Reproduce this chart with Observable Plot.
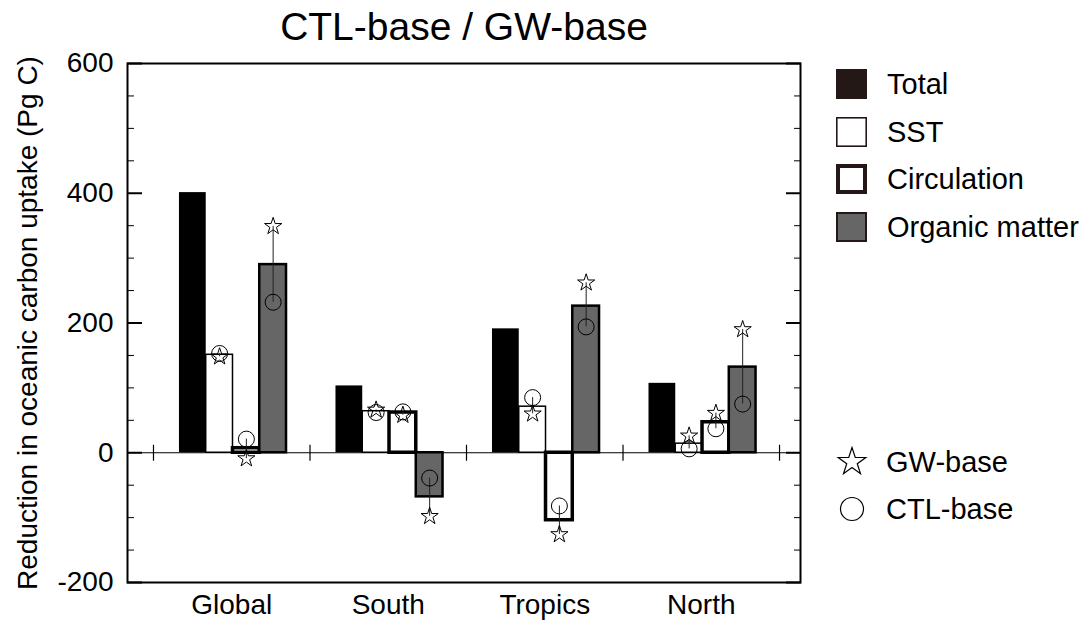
<!DOCTYPE html>
<html>
<head>
<meta charset="utf-8">
<script src="https://cdn.jsdelivr.net/npm/d3@7"></script>
<script src="https://cdn.jsdelivr.net/npm/@observablehq/plot@0.6"></script>
<style>
  body { margin: 0; background: #fff; font-family: "Liberation Sans", Arial, Helvetica, sans-serif; }
  #wrap { position: relative; width: 1081px; height: 622px; }
  .legend-item { position: absolute; display: flex; align-items: center; font-size: 29px; color: #000; line-height: 30px; }
  .legend-item svg { display: block; flex: none; }
</style>
</head>
<body>
<div id="wrap"></div>
<script>
// Regions and decomposition terms
const groups = ["Global", "South", "Tropics", "North"];
const series = ["Total", "SST", "Circulation", "Organic matter"];

// Reduction in oceanic carbon uptake (Pg C), bar heights
const total       = [401, 103, 191, 107];
const sst         = [151,  64,  71,  14];
const circulation = [  7,  62, -104, 47];
const organic     = [290, -68, 226, 132];

// Estimates from the two base states (stars: GW-base, circles: CTL-base)
const gwSST       = [148,  66,   60,  26];
const gwCirc      = [ -9,  58, -126,  61];
const gwOrganic   = [349, -98,  262, 190];
const ctlSST      = [153,  62,   85,   6];
const ctlCirc     = [ 21,  63,  -82,  37];
const ctlOrganic  = [232, -39,  194,  75];

// Axis ticks
const yMajorTicks = [-200, 0, 200, 400, 600];
const yMinorTicks = [-150, -100, -50, 50, 100, 150, 250, 300, 350, 450, 500, 550];

const titleText = "CTL-base / GW-base";
const yLabel = "Reduction in oceanic carbon uptake (Pg C)";

// Bar appearance per term
const barStyle = {
  "Total":          {fill: "#000",    stroke: "#000", strokeWidth: 0},
  "SST":            {fill: "#fff",    stroke: "#000", strokeWidth: 1.5},
  "Circulation":    {fill: "#fff",    stroke: "#000", strokeWidth: 3.5},
  "Organic matter": {fill: "#666666", stroke: "#000", strokeWidth: 2.5}
};

// Assemble one row per (region, term)
const values = [total, sst, circulation, organic];
const gwValues = [null, gwSST, gwCirc, gwOrganic];
const ctlValues = [null, ctlSST, ctlCirc, ctlOrganic];
const rows = [];
groups.forEach((g, gi) => series.forEach((s, si) => rows.push({
  group: g, gi, series: s, si,
  value: values[si][gi],
  gw: gwValues[si] ? gwValues[si][gi] : null,
  ctl: ctlValues[si] ? ctlValues[si][gi] : null
})));
const withRange = rows.filter(d => d.gw != null);

// Bars sit side by side inside each region slot (one unit wide)
const BAR_START = -0.334;
const BAR_W = 0.171;
const bx1 = d => d.gi + BAR_START + d.si * BAR_W;
const bx2 = d => bx1(d) + BAR_W;
const bxc = d => bx1(d) + BAR_W / 2;

// Region boundaries, marked with short crosses on the zero line
const boundaries = d3.range(-0.5, groups.length, 1);

// Short vertical stroke used as a custom dot symbol
const vline = {draw(context, size) { const h = Math.sqrt(size / Math.PI); context.moveTo(0, -h); context.lineTo(0, h); }};

const barMarks = series.map(s => Plot.rect(rows.filter(d => d.series === s), {
  x1: bx1, x2: bx2, y1: 0, y2: "value",
  fill: barStyle[s].fill,
  stroke: barStyle[s].strokeWidth ? barStyle[s].stroke : "none",
  strokeWidth: barStyle[s].strokeWidth
}));

const chart = Plot.plot({
  width: 1081,
  height: 622,
  marginLeft: 127,
  marginRight: 281,
  marginTop: 63,
  marginBottom: 40,
  style: {fontFamily: "'Liberation Sans', Arial, Helvetica, sans-serif", color: "#000", background: "#fff"},
  x: {type: "linear", domain: [-0.666, 3.634]},
  y: {domain: [-200, 600]},
  marks: [
    Plot.ruleY([0], {stroke: "#000", strokeWidth: 1}),
    ...barMarks,
    Plot.dot(boundaries, {x: d => d, y: 0, symbol: vline, r: 8, stroke: "#000", strokeWidth: 1.2}),
    Plot.ruleX(withRange, {x: bxc, y1: "gw", y2: "ctl", stroke: "#222", strokeWidth: 1}),
    Plot.dot(withRange, {x: bxc, y: "ctl", r: 8, fill: "none", stroke: "#000", strokeWidth: 1}),
    Plot.dot(withRange, {x: bxc, y: "gw", symbol: "star", r: 5.4, fill: "none", stroke: "#000", strokeWidth: 1}),
    Plot.frame({stroke: "#000", strokeWidth: 2}),
    Plot.axisY({anchor: "left", ticks: yMajorTicks, tickSize: -15, tickPadding: 29, strokeWidth: 2,
      tickFormat: d => String(d), fontSize: 28, label: null}),
    Plot.axisY({anchor: "left", ticks: yMinorTicks, tickSize: -7, strokeWidth: 1, tickFormat: () => "", label: null}),
    Plot.axisY({anchor: "right", ticks: yMajorTicks, tickSize: -15, strokeWidth: 2, tickFormat: () => "", label: null}),
    Plot.axisY({anchor: "right", ticks: yMinorTicks, tickSize: -7, strokeWidth: 1, tickFormat: () => "", label: null}),
    Plot.axisX({ticks: d3.range(groups.length), tickFormat: i => groups[i], tickSize: 0, tickPadding: 12,
      fontSize: 28, label: null}),
    Plot.text([titleText], {text: d => d, frameAnchor: "top", dy: -24, lineAnchor: "bottom", fontSize: 39}),
    Plot.text([yLabel], {text: d => d, frameAnchor: "left", textAnchor: "middle", dx: -99, rotate: -90, fontSize: 28})
  ]
});

const wrap = document.getElementById("wrap");
wrap.appendChild(chart);

// Legend for the bar terms
const legend = d3.select(wrap);
series.forEach((s, i) => {
  const st = barStyle[s];
  const item = legend.append("div").attr("class", "legend-item")
    .style("left", "836px").style("top", (69 + i * 47.5) + "px");
  const svg = item.append("svg").attr("width", 31).attr("height", 30);
  const sw = s === "Total" ? 0 : (s === "Circulation" ? 4 : s === "SST" ? 1.6 : 2);
  svg.append("rect")
    .attr("x", sw / 2).attr("y", sw / 2)
    .attr("width", 31 - sw).attr("height", 30 - sw)
    .attr("fill", s === "Total" ? "#231815" : st.fill)
    .attr("stroke", sw ? "#231815" : "none")
    .attr("stroke-width", sw);
  item.append("span").style("margin-left", "20px").text(s);
});

// Legend for the base-state markers
const markerLegend = [
  {label: "GW-base", path: d3.symbol(d3.symbolStar, 236)(), top: 446},
  {label: "CTL-base", path: null, top: 493}
];
markerLegend.forEach(m => {
  const item = legend.append("div").attr("class", "legend-item")
    .style("left", "836px").style("top", m.top + "px");
  const svg = item.append("svg").attr("width", 32).attr("height", 32);
  const g = svg.append("g").attr("transform", "translate(16,16)");
  if (m.path) g.append("path").attr("d", m.path).attr("fill", "none").attr("stroke", "#000").attr("stroke-width", 1.2);
  else g.append("circle").attr("r", 11.5).attr("fill", "none").attr("stroke", "#000").attr("stroke-width", 1.2);
  item.append("span").style("margin-left", "18px").text(m.label);
});
</script>
</body>
</html>
